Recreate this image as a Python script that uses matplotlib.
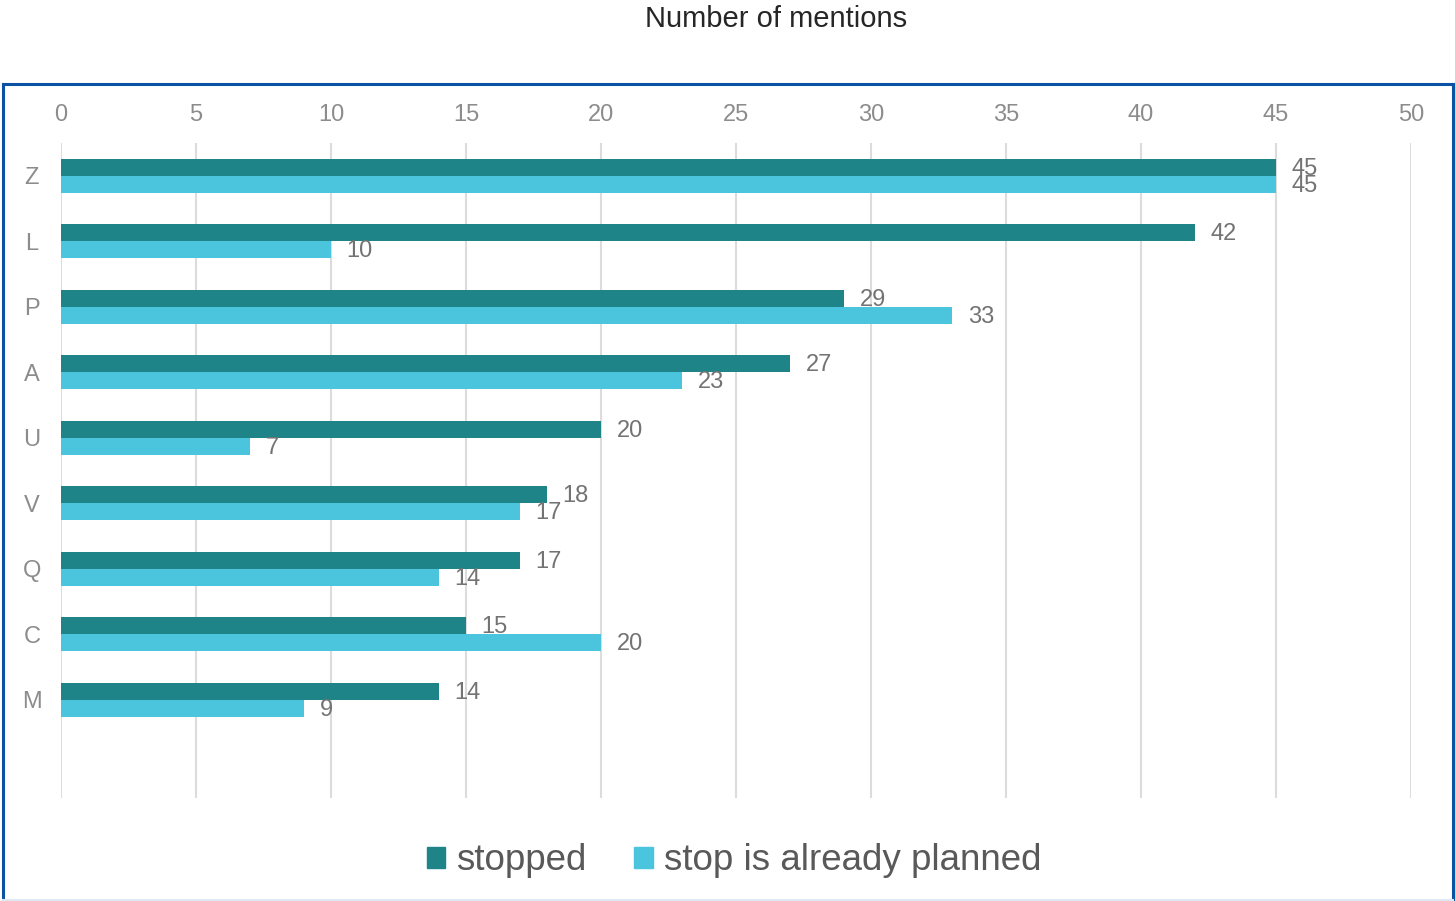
import matplotlib
matplotlib.use("Agg")
import matplotlib.pyplot as plt
from matplotlib.lines import Line2D
from matplotlib.patches import Patch
import numpy as np

plt.rcParams['font.family'] = ['Liberation Sans', 'DejaVu Sans']

categories = ["Z", "L", "P", "A", "U", "V", "Q", "C", "M"]
stopped = [45, 42, 29, 27, 20, 18, 17, 15, 14]
planned = [45, 10, 33, 23, 7, 17, 14, 20, 9]
series_names = ["stopped", "stop is already planned"]
x_ticks = [0, 5, 10, 15, 20, 25, 30, 35, 40, 45, 50]

c_stopped = "#1F8488"
c_planned = "#4BC5DE"
label_color = "#737373"

W, H = 1455, 901
fig = plt.figure(figsize=(W / 100, H / 100), dpi=100)

# frame around the plot area
fig.add_artist(Line2D([3 / W, 3 / W], [1 - 84 / H, 1 - 899 / H], color="#0B52A5", lw=2.2))
fig.add_artist(Line2D([3 / W, 1453 / W], [1 - 84 / H, 1 - 84 / H], color="#0B52A5", lw=2.2))
fig.add_artist(Line2D([1453 / W, 1453 / W], [1 - 84 / H, 1 - 899 / H], color="#0B52A5", lw=2.2))
fig.add_artist(Line2D([3 / W, 1453 / W], [1 - 899.5 / H, 1 - 899.5 / H], color="#DFE8F3", lw=1.5))

ax = fig.add_axes([61 / W, 1 - 798 / H, (1411 - 61) / W, (798 - 143) / H])

y = np.arange(len(categories))
h = 0.26
ax.barh(y - h / 2, stopped, height=h, color=c_stopped, zorder=3)
ax.barh(y + h / 2, planned, height=h, color=c_planned, zorder=3)

for yi, v in zip(y, stopped):
    ax.text(v + 0.58, yi - h / 2 + 0.02, str(v), va="center", ha="left", fontsize=17,
            color=label_color, zorder=2)
for yi, v in zip(y, planned):
    ax.text(v + 0.58, yi + h / 2 + 0.02, str(v), va="center", ha="left", fontsize=17,
            color=label_color, zorder=4)

ax.set_xlim(0, 50)
ax.set_ylim(len(categories) + 0.5, -0.5)
ax.set_xticks(x_ticks)
ax.set_xticklabels([str(t) for t in x_ticks])
ax.xaxis.tick_top()
ax.tick_params(axis="x", length=0, pad=12, labelsize=17, labelcolor="#8C8C8C")
ax.set_yticks(y)
ax.set_yticklabels(categories)
ax.tick_params(axis="y", length=0, pad=21, labelsize=17, labelcolor="#8C8C8C")
for lab in ax.get_yticklabels():
    lab.set_ha("center")

ax.grid(axis="x", color="#DCDCDC", lw=1.5, zorder=0)
ax.grid(axis="y", visible=False)
for s in ax.spines.values():
    s.set_visible(False)

fig.text(776 / W, 1 - 19 / H, "Number of mentions", ha="center", va="center",
         fontsize=21, color="#262626")

handles = [Patch(color=c_stopped), Patch(color=c_planned)]
fig.legend(handles, series_names, loc="center", bbox_to_anchor=(734 / W, 1 - 861 / H),
           ncol=2, frameon=False, fontsize=26.5, labelcolor="#595959",
           handlelength=0.5, handleheight=0.5, handletextpad=0.3, columnspacing=1.3)

fig.savefig("out.png", dpi=100)
